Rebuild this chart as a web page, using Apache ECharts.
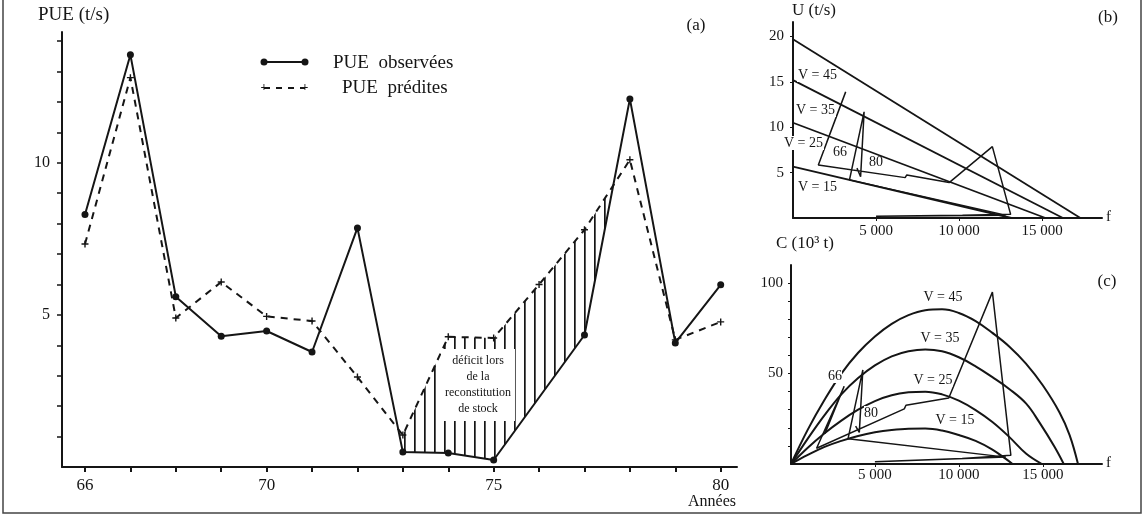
<!DOCTYPE html>
<html><head><meta charset="utf-8">
<script src="https://cdn.jsdelivr.net/npm/echarts@6/dist/echarts.min.js"></script>
<style>html,body{margin:0;padding:0;background:#fff}#c{width:1147px;height:517px}</style>
</head><body><div id="c"></div><script>
// ---------- Panel (a) data ----------
const years = [66,67,68,69,70,71,72,73,74,75,76,77,78,79,80];
const pueObservees = [8.3,13.55,5.6,4.3,4.47,3.78,7.86,0.49,0.46,0.23,null,4.34,12.1,4.08,5.99];
const puePredites  = [7.33,12.8,4.9,6.08,4.95,4.8,2.96,1.05,4.28,4.24,6.0,7.8,10.1,4.18,4.77];
const yearTickLabels = [66,70,75,80];
const pueTicks = [1,2,3,4,5,6,7,8,9,10,11,12,13,14];
const pueTickLabels = [5,10];
const deficitFrom = 73, deficitTo = 77;
// ---------- Panel (b) data : U vs f ----------
const vNames = ['V = 45','V = 35','V = 25','V = 15'];
const uLine45 = [[0,19.7],[17300,0]];
const uLine35 = [[0,15.2],[16250,0]];
const uLine25 = [[0,10.5],[15200,0]];
const uLine15 = [[0,5.65],[13150,0]];
const fTickLabels = [5000,10000,15000];
const uTickLabels = [5,10,15,20];
// trajectory 66..80 (f, U, C)
const trajF = [2020,3170,1525,6750,6850,9400,12000,13100,10200,5000,12800,3400,4280,4070,3850];
const trajU = [8.3,13.9,5.84,4.45,4.75,3.9,7.86,0.4,0.3,0.2,0.3,4.2,11.7,4.55,5.5];
const trajC = [16.8,43,8.7,30.5,32.5,36.5,95,4.8,3,1.2,3.8,14,52,17.5,21];
// ---------- Panel (c) data : C vs f ----------
const cCurve45 = [[0,0],[1000,19],[2000,35.5],[3000,50],[4000,61.5],[5000,70.5],[6000,77.5],[7000,82.3],[8000,85],[9000,85.5],[10000,83.5],[11000,79],[12000,72.5],[13000,65],[14000,55.5],[15000,43.5],[16000,28.5],[16600,16],[17100,0]];
const cCurve35 = [[0,0],[1000,14],[2000,27],[3000,38.5],[4000,47.5],[5000,54.5],[6000,59.5],[7000,62.3],[8000,63.3],[9000,62.3],[10000,59],[11000,54],[12000,48],[13000,41.5],[14000,33.5],[14800,23],[15700,9.5],[16250,0]];
const cCurve25 = [[0,0],[1000,9],[2000,17],[3000,24],[4000,30],[5000,34.8],[6000,38],[7000,39.6],[8000,40],[9000,38.5],[10000,35],[11000,29.8],[12000,23.2],[13000,15],[14000,5.8],[14950,0]];
const cCurve15 = [[0,0],[1000,5],[2000,9.5],[3000,12.8],[4000,15.5],[5000,17.5],[6000,18.8],[7000,19.5],[8000,19.6],[9000,18.5],[10000,16],[11000,12.8],[12000,8],[12800,2.8],[13200,0]];
const cTicks = [10,20,30,40,50,60,70,80,90,100];
const cTickLabels = [50,100];

const FONT = '"Liberation Serif","DejaVu Serif",serif';
const INK = '#151515';

const chart = echarts.init(document.getElementById('c'), null, {renderer:'canvas', width:1147, height:517});

// hatch pattern
const pat = document.createElement('canvas');
pat.width = 10; pat.height = 10;
const pctx = pat.getContext('2d');
pctx.fillStyle = INK; pctx.fillRect(4,0,1.7,10);

function fmtThousand(v){ const s=String(v); return s.slice(0,s.length-3)+' '+s.slice(-3); }

const obsData = years.map((y,i)=>[y,pueObservees[i]]);
const predData = years.map((y,i)=>[y,puePredites[i]]);

function lineS(data, xi, yi, opts){
  return Object.assign({type:'line', xAxisIndex:xi, yAxisIndex:yi, data:data, showSymbol:false, silent:true,
    lineStyle:{color:INK, width:1.7}, animation:false}, opts||{});
}

const axisCommon = {axisLine:{show:true,onZero:false,lineStyle:{color:INK,width:2}}, splitLine:{show:false}};

const option = {
  animation:false,
  backgroundColor:'#fff',
  grid:[
    {left:62, top:32, width:675, height:435},
    {left:793, top:22, width:309, height:196},
    {left:791, top:265, width:311, height:199}
  ],
  xAxis:[
    Object.assign({type:'value', gridIndex:0, min:65.4935, max:80.359,
      axisTick:{show:true, length:5, customValues:years, lineStyle:{color:INK,width:2}},
      axisLabel:{customValues:yearTickLabels, fontFamily:FONT, fontSize:17, color:INK, margin:10}}, axisCommon),
    Object.assign({type:'value', gridIndex:1, min:0, max:18600,
      axisTick:{show:true, length:3, customValues:fTickLabels, lineStyle:{color:INK}},
      axisLabel:{customValues:fTickLabels, fontFamily:FONT, fontSize:15, color:INK, margin:6, formatter:fmtThousand}}, axisCommon),
    Object.assign({type:'value', gridIndex:2, min:0, max:18530,
      axisTick:{show:true, length:3, customValues:fTickLabels, lineStyle:{color:INK}},
      axisLabel:{customValues:fTickLabels, fontFamily:FONT, fontSize:15, color:INK, margin:4, formatter:fmtThousand}}, axisCommon)
  ],
  yAxis:[
    Object.assign({type:'value', gridIndex:0, min:0, max:14.3,
      axisTick:{show:true, length:5, customValues:pueTicks, lineStyle:{color:INK,width:1.5}},
      axisLabel:{customValues:pueTickLabels, fontFamily:FONT, fontSize:16, color:INK, margin:12}}, axisCommon),
    Object.assign({type:'value', gridIndex:1, min:0, max:21.6,
      axisTick:{show:true, length:3, customValues:uTickLabels, lineStyle:{color:INK}},
      axisLabel:{customValues:uTickLabels, fontFamily:FONT, fontSize:15, color:INK, margin:9}}, axisCommon),
    Object.assign({type:'value', gridIndex:2, min:0, max:110,
      axisTick:{show:true, length:3, customValues:cTicks, lineStyle:{color:INK}},
      axisLabel:{customValues:cTickLabels, fontFamily:FONT, fontSize:15, color:INK, margin:8}}, axisCommon)
  ],
  series:[
    // hatched deficit region
    {type:'custom', xAxisIndex:0, yAxisIndex:0, silent:true, z:1, data:[[deficitFrom,1]],
      renderItem:function(params, api){
        const i0 = years.indexOf(deficitFrom), i1 = years.indexOf(deficitTo);
        const pts = [];
        for(let i=i0;i<=i1;i++) pts.push(api.coord([years[i], puePredites[i]]));
        const d0 = puePredites[i1]-pueObservees[i1], d1 = puePredites[i1+1]-pueObservees[i1+1];
        const t = d0/(d0-d1);
        const cx = years[i1]+t*(years[i1+1]-years[i1]);
        const cy = pueObservees[i1]+t*(pueObservees[i1+1]-pueObservees[i1]);
        pts.push(api.coord([cx,cy]));
        for(let i=i1;i>=i0;i--) if(pueObservees[i]!==null) pts.push(api.coord([years[i], pueObservees[i]]));
        return {type:'polygon', shape:{points:pts}, style:{fill:{image:pat, repeat:'repeat'}, stroke:null}};
      }},
    lineS(predData,0,0,{showSymbol:true, symbol:'path://M4,0H6V4H10V6H6V10H4V6H0V4H4Z', symbolSize:7,
      itemStyle:{color:INK}, lineStyle:{color:INK,width:2,type:[7,6]}, z:3}),
    lineS(obsData,0,0,{showSymbol:true, symbol:'circle', symbolSize:7, connectNulls:true,
      itemStyle:{color:INK}, lineStyle:{color:INK,width:2}, z:4}),
    // panel b
    lineS(uLine45,1,1,{lineStyle:{color:INK,width:1.8}}),
    lineS(uLine35,1,1,{lineStyle:{color:INK,width:1.8}}),
    lineS(uLine25,1,1,{lineStyle:{color:INK,width:1.8}}),
    lineS(uLine15,1,1,{lineStyle:{color:INK,width:1.8}}),
    lineS(trajF.map((f,i)=>[f,trajU[i]]),1,1,{lineStyle:{color:INK,width:1.5}}),
    // panel c
    lineS(cCurve45,2,2,{smooth:0.4, lineStyle:{color:INK,width:2}}),
    lineS(cCurve35,2,2,{smooth:0.4, lineStyle:{color:INK,width:2}}),
    lineS(cCurve25,2,2,{smooth:0.4, lineStyle:{color:INK,width:2}}),
    lineS(cCurve15,2,2,{smooth:0.4, lineStyle:{color:INK,width:2}}),
    lineS(trajF.map((f,i)=>[f,trajC[i]]),2,2,{lineStyle:{color:INK,width:1.5}})
  ],
  graphic:[
    {type:'rect', shape:{x:3,y:-3,width:1138,height:516}, style:{fill:null, stroke:'#444', lineWidth:1.5}, z:0},
    // panel a texts
    {type:'text', x:38, y:15, style:{text:'PUE (t/s)', font:'19px '+FONT, fill:INK, verticalAlign:'middle'}},
    {type:'text', x:696, y:26, style:{text:'(a)', font:'17px '+FONT, fill:INK, align:'center', verticalAlign:'middle'}},
    {type:'text', x:736, y:502, style:{text:'Années', font:'16px '+FONT, fill:INK, align:'right', verticalAlign:'middle'}},
    // legend
    {type:'line', shape:{x1:264,y1:62,x2:305,y2:62}, style:{stroke:INK,lineWidth:2}},
    {type:'circle', shape:{cx:264,cy:62,r:3.5}, style:{fill:INK}},
    {type:'circle', shape:{cx:305,cy:62,r:3.5}, style:{fill:INK}},
    {type:'line', shape:{x1:264,y1:88,x2:305,y2:88}, style:{stroke:INK,lineWidth:2,lineDash:[6,6]}},
    {type:'text', x:264, y:88, style:{text:'+', font:'bold 12px '+FONT, fill:INK, align:'center', verticalAlign:'middle'}},
    {type:'text', x:305, y:88, style:{text:'+', font:'bold 12px '+FONT, fill:INK, align:'center', verticalAlign:'middle'}},
    {type:'text', x:333, y:63, style:{text:'PUE  observées', font:'19px '+FONT, fill:INK, verticalAlign:'middle'}},
    {type:'text', x:342, y:88, style:{text:'PUE  prédites', font:'19px '+FONT, fill:INK, verticalAlign:'middle'}},
    {type:'text', x:478, y:385, z:100, style:{text:'déficit lors\nde la\nreconstitution\nde stock', font:'12px '+FONT, lineHeight:16,
      fill:INK, align:'center', verticalAlign:'middle', backgroundColor:'#fff', padding:[4,4]}},
    // panel b texts
    {type:'text', x:792, y:11, style:{text:'U (t/s)', font:'17px '+FONT, fill:INK, verticalAlign:'middle'}},
    {type:'text', x:1108, y:18, style:{text:'(b)', font:'17px '+FONT, fill:INK, align:'center', verticalAlign:'middle'}},
    {type:'text', x:1106, y:217, style:{text:'f', font:'15px '+FONT, fill:INK, verticalAlign:'middle'}},
    {type:'text', x:797, y:75, z:100, style:{text:vNames[0], font:'14px '+FONT, fill:INK, verticalAlign:'middle', backgroundColor:'#fff', padding:[0,1]}},
    {type:'text', x:795, y:110, z:100, style:{text:vNames[1], font:'14px '+FONT, fill:INK, verticalAlign:'middle', backgroundColor:'#fff', padding:[0,1]}},
    {type:'text', x:783, y:143, z:100, style:{text:vNames[2], font:'14px '+FONT, fill:INK, verticalAlign:'middle', backgroundColor:'#fff', padding:[0,1]}},
    {type:'text', x:797, y:187, z:100, style:{text:vNames[3], font:'14px '+FONT, fill:INK, verticalAlign:'middle', backgroundColor:'#fff', padding:[0,1]}},
    {type:'text', x:840, y:152, z:100, style:{text:'66', font:'14px '+FONT, fill:INK, align:'center', verticalAlign:'middle'}},
    {type:'text', x:876, y:162, z:100, style:{text:'80', font:'14px '+FONT, fill:INK, align:'center', verticalAlign:'middle'}},
    // panel c texts
    {type:'text', x:776, y:244, style:{text:'C (10³ t)', font:'17px '+FONT, fill:INK, verticalAlign:'middle'}},
    {type:'text', x:1107, y:282, style:{text:'(c)', font:'17px '+FONT, fill:INK, align:'center', verticalAlign:'middle'}},
    {type:'text', x:1106, y:463, style:{text:'f', font:'15px '+FONT, fill:INK, verticalAlign:'middle'}},
    {type:'text', x:943, y:297, z:100, style:{text:vNames[0], font:'14px '+FONT, fill:INK, align:'center', verticalAlign:'middle', backgroundColor:'#fff'}},
    {type:'text', x:940, y:338, z:100, style:{text:vNames[1], font:'14px '+FONT, fill:INK, align:'center', verticalAlign:'middle', backgroundColor:'#fff'}},
    {type:'text', x:933, y:380, z:100, style:{text:vNames[2], font:'14px '+FONT, fill:INK, align:'center', verticalAlign:'middle', backgroundColor:'#fff'}},
    {type:'text', x:955, y:420, z:100, style:{text:vNames[3], font:'14px '+FONT, fill:INK, align:'center', verticalAlign:'middle', backgroundColor:'#fff'}},
    {type:'text', x:835, y:376, z:100, style:{text:'66', font:'14px '+FONT, fill:INK, align:'center', verticalAlign:'middle', backgroundColor:'#fff'}},
    {type:'text', x:871, y:413, z:100, style:{text:'80', font:'14px '+FONT, fill:INK, align:'center', verticalAlign:'middle', backgroundColor:'#fff'}}
  ]
};
chart.setOption(option);
</script></body></html>
